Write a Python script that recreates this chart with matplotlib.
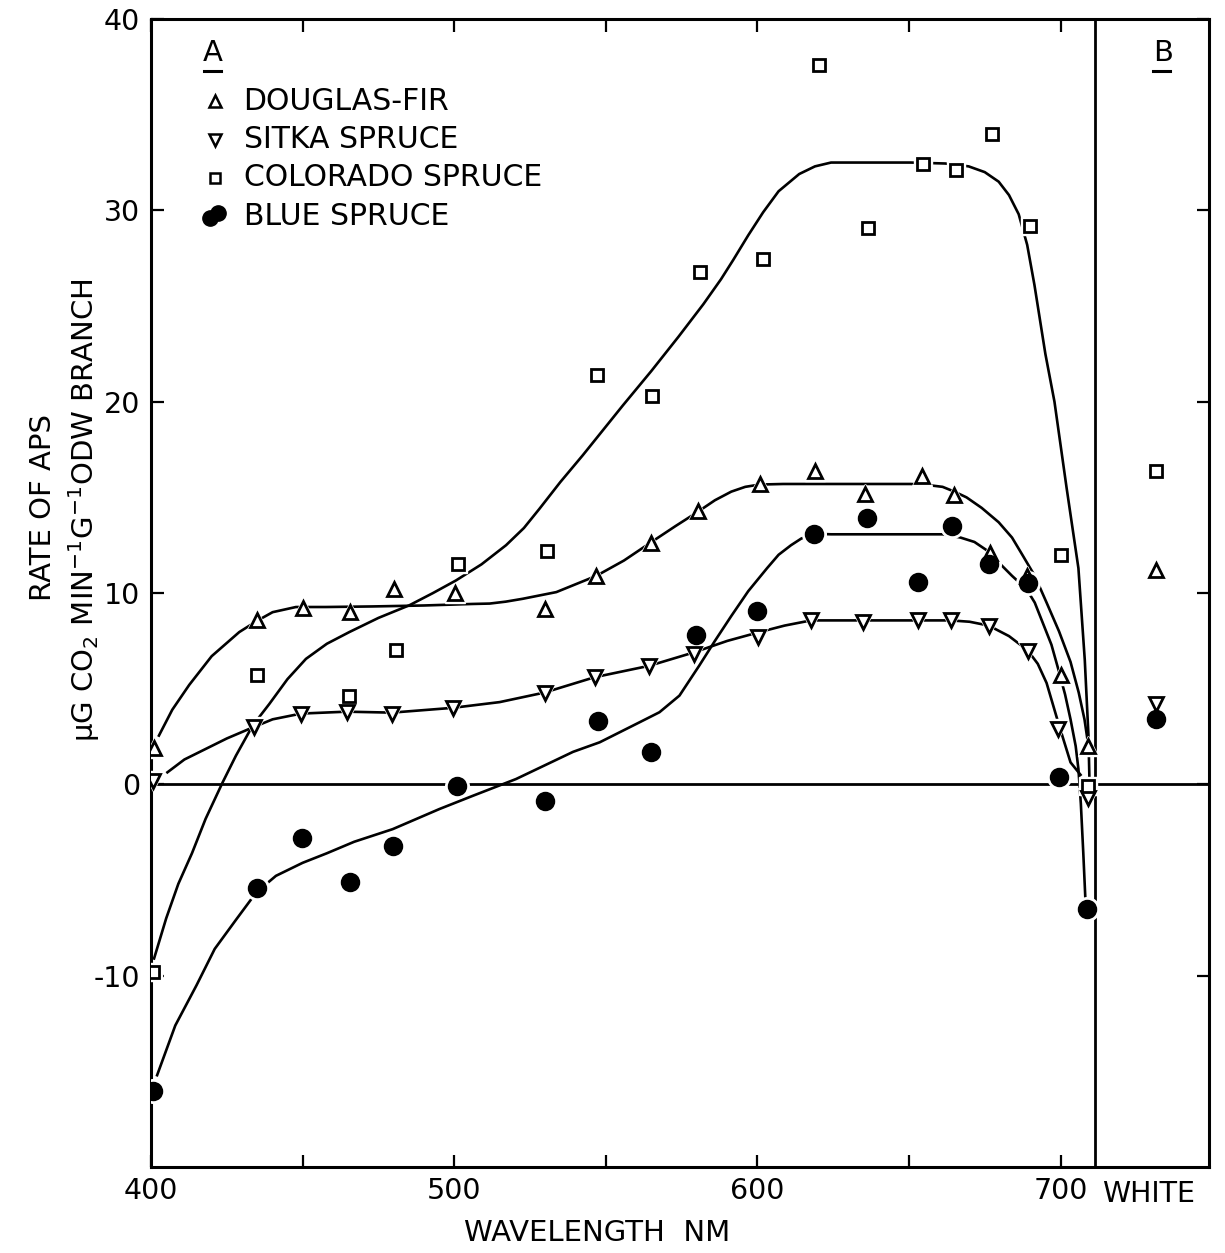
import numpy as np
import matplotlib.pyplot as plt
import matplotlib.transforms as mtransforms

plt.rcParams['font.family'] = ['DejaVu Sans']

# measured points (wavelength nm, rate)
df_x = [401, 435, 450, 465.6, 480, 500.4, 530, 546.7, 565, 580.3, 601, 619, 635.5, 654.2, 665, 676.7, 688.8, 700, 709.2]
df_y = [1.9, 8.6, 9.2, 9.0, 10.2, 10.0, 9.15, 10.9, 12.6, 14.3, 15.7, 16.4, 15.2, 16.1, 15.1, 12.1, 10.9, 5.7, 2.0]

ss_x = [400.5, 434, 449.5, 464.5, 479.4, 499.5, 529.8, 546.3, 564.4, 579.1, 600.2, 617.7, 634.8, 652.9, 663.8, 676.3, 689.2, 699.1, 709.2]
ss_y = [0.2, 3.0, 3.7, 3.8, 3.7, 4.0, 4.8, 5.6, 6.2, 6.8, 7.7, 8.57, 8.5, 8.57, 8.57, 8.3, 6.95, 2.9, -0.7]

cs_x = [400.5, 435.1, 465.4, 480.8, 501.4, 530.6, 547, 565.1, 581.2, 601.9, 620.3, 636.5, 654.8, 665.5, 677.3, 690, 700, 709.2]
cs_y = [-9.8, 5.7, 4.6, 7.0, 11.5, 12.2, 21.4, 20.3, 26.8, 27.45, 37.6, 29.1, 32.4, 32.1, 34.0, 29.2, 12.0, -0.1]

bs_x = [400.8, 434.8, 449.7, 465.5, 479.9, 500.8, 530, 547.4, 565, 579.7, 600, 618.7, 636, 652.9, 664.2, 676.5, 689.2, 699.6, 708.7]
bs_y = [-16.0, -5.4, -2.8, -5.1, -3.2, -0.07, -0.85, 3.3, 1.7, 7.8, 9.06, 13.1, 13.9, 10.6, 13.5, 11.5, 10.5, 0.37, -6.5]

# white light values
white_df, white_ss, white_cs, white_bs = 11.2, 4.2, 16.4, 3.4

# hand-drawn fitted curves
df_cx = [402.6, 407, 412.6, 420, 429.1, 435, 440.1, 447.8, 457.7, 473.1, 490, 506.1, 511.7, 517, 522.6, 533.7,
         546.9, 556, 565.1, 573, 580.3, 586, 591.4, 596, 600.7, 608.5, 650.6, 656, 661.1, 665, 669, 674, 679.6,
         684, 687.4, 691.5, 695.4, 699.5, 703.3, 706, 707.9, 709.2]
df_cy = [2.55, 3.9, 5.2, 6.7, 7.96, 8.55, 9.0, 9.27, 9.27, 9.3, 9.35, 9.43, 9.45, 9.55, 9.7, 10.05,
         10.9, 11.7, 12.67, 13.5, 14.24, 14.85, 15.3, 15.55, 15.67, 15.7, 15.7, 15.65, 15.55, 15.3, 15.0, 14.45, 13.7,
         12.9, 12.0, 10.9, 9.5, 8.0, 6.4, 4.8, 3.4, 2.0]

ss_cx = [405.4, 411, 418, 425, 432.4, 440.1, 449.5, 464.5, 479.4, 499.5, 515, 529.8, 546.3, 564.4, 579.1, 590.1,
         600.7, 609, 617.7, 663.8, 670, 676.3, 683, 689.2, 692.5, 695.4, 699.3, 703.3, 706.6]
ss_cy = [0.63, 1.3, 1.85, 2.4, 2.9, 3.4, 3.7, 3.8, 3.75, 4.0, 4.3, 4.8, 5.6, 6.2, 6.9, 7.5,
         7.96, 8.3, 8.57, 8.57, 8.5, 8.3, 7.75, 7.0, 6.3, 5.3, 3.2, 1.15, 0.5]

cs_cx = [401, 405, 409, 413.5, 418, 423.6, 428, 433.5, 439, 445, 451.1, 458, 465.4, 475, 485.2, 493, 500.6,
         509, 517.1, 523, 528.1, 535, 542.4, 549, 555.6, 565, 574, 582.2, 588, 592, 597, 601.9, 607, 613.8,
         619, 624.3, 650.6, 662, 669.7, 675, 679.6, 683, 686.2, 689, 691.4, 695, 698, 702, 705.9, 708, 709.2, 709.6]
cs_cy = [-9.1, -7.0, -5.2, -3.6, -1.8, 0.1, 1.5, 3.07, 4.2, 5.5, 6.56, 7.35, 7.96, 8.7, 9.36, 10.0, 10.66,
         11.5, 12.5, 13.4, 14.4, 15.8, 17.2, 18.5, 19.8, 21.6, 23.4, 25.1, 26.4, 27.4, 28.7, 29.9, 31.0, 31.9,
         32.3, 32.5, 32.5, 32.45, 32.3, 32.0, 31.5, 30.8, 29.8, 28.2, 26.1, 22.5, 20.0, 15.5, 11.3, 6.5, 2.6, -0.2]

bs_cx = [402, 408, 415, 421, 428.1, 434.7, 441.2, 450, 458, 467, 479.7, 495.1, 506.1, 520.4, 539.2, 548, 561.2,
         567.7, 574.3, 580.8, 586, 591.4, 597, 603.2, 607, 611.1, 614.5, 618.7, 624.3, 661.1, 667, 671.6, 676,
         679.6, 684, 688.8, 691.5, 694, 697, 699.3, 701.5, 703.3, 705, 705.9, 706.7, 707.5, 708.2]
bs_cy = [-15.2, -12.6, -10.5, -8.6, -7.06, -5.65, -4.78, -4.1, -3.6, -3.0, -2.34, -1.29, -0.6, 0.28, 1.7, 2.2, 3.25,
         3.77, 4.64, 6.2, 7.5, 8.8, 10.1, 11.3, 12.0, 12.5, 12.85, 13.1, 13.07, 13.07, 12.9, 12.67, 12.2,
         11.6, 10.9, 10.2, 9.5, 8.5, 7.3, 6.0, 4.7, 3.4, 2.0, 0.8, -1.0, -3.56, -6.0]

species = ['DOUGLAS-FIR', 'SITKA SPRUCE', 'COLORADO SPRUCE', 'BLUE SPRUCE']

WHITE_X = 731.5
DIVIDER = 711.5

fig = plt.figure(figsize=(12.25, 12.53), dpi=100)
ax = fig.add_axes([0.1233, 0.0686, 0.8637, 0.9162])
ax.set_xlim(400, 749)
ax.set_ylim(-20, 40)

lw = 1.9
ax.plot(df_cx, df_cy, color='black', lw=lw, zorder=2)
ax.plot(ss_cx, ss_cy, color='black', lw=lw, zorder=2)
ax.plot(cs_cx, cs_cy, color='black', lw=lw, zorder=2)
ax.plot(bs_cx, bs_cy, color='black', lw=lw, zorder=2)

ax.axhline(0, color='black', lw=2.0, zorder=1)
ax.axvline(DIVIDER, color='black', lw=2.0, zorder=1)


def pts(x, y, marker, ms, filled=False):
    # white halo so the fitted line breaks around each symbol
    ax.plot(x, y, ls='none', marker=marker, ms=ms + 5, mfc='white', mec='white', zorder=3)
    ax.plot(x, y, ls='none', marker=marker, ms=ms, mfc='black' if filled else 'white',
            mec='black', mew=2.0, zorder=4)


pts(df_x + [WHITE_X], df_y + [white_df], '^', 10)
pts(ss_x + [WHITE_X], ss_y + [white_ss], 'v', 10)
pts(cs_x + [WHITE_X], cs_y + [white_cs], 's', 8.5)
pts(bs_x + [WHITE_X], bs_y + [white_bs], 'o', 12, filled=True)

# panel labels
ax.text(420.2, 38.2, 'A', fontsize=21, ha='center', va='center')
ax.plot([417.5, 423.0], [37.3, 37.3], color='black', lw=2.2)
ax.text(734.0, 38.2, 'B', fontsize=21, ha='center', va='center')
ax.plot([730.5, 736.0], [37.3, 37.3], color='black', lw=2.2)

# legend drawn by hand
leg_y = [35.7, 33.7, 31.7, 29.7]
ax.plot(421, leg_y[0], marker='^', ms=8, mfc='white', mec='black', mew=1.8)
ax.plot(421, leg_y[1], marker='v', ms=8, mfc='white', mec='black', mew=1.8)
ax.plot(421, leg_y[2], marker='s', ms=7, mfc='white', mec='black', mew=1.8)
ax.plot([419.5, 422.0], [leg_y[3] - 0.1, leg_y[3] + 0.15], ls='none', marker='o', ms=11, color='black')
for yy, name in zip(leg_y, species):
    ax.text(430.5, yy, name, fontsize=21.5, ha='left', va='center')

# ticks
ax.set_xticks([400, 500, 600, 700])
ax.set_xticklabels(['400', '500', '600', '700'])
ax.set_xticks([450, 550, 650], minor=True)
ax.set_yticks([40, 30, 20, 10, 0, -10])
ax.set_yticklabels(['40', '30', '20', '10', '0', '-10'])
ax.tick_params(axis='both', which='both', direction='in', length=9, width=1.6,
               labelsize=20.5, top=True, right=True)
ax.tick_params(axis='x', pad=7)
ax.tick_params(axis='y', pad=8)
for s in ax.spines.values():
    s.set_linewidth(2.2)

trans = mtransforms.blended_transform_factory(ax.transData, ax.transAxes)
ax.text(729, -0.011, 'WHITE', transform=trans, fontsize=20.5, ha='center', va='top')

ax.set_xlabel('WAVELENGTH  NM', fontsize=21)
ax.xaxis.set_label_coords(0.4217, -0.045)
fig.text(0.035, 0.595, 'RATE OF APS', rotation=90, fontsize=21, ha='center', va='center')
fig.text(0.069, 0.593, 'μG CO$_2$ MIN$^{-1}$G$^{-1}$ODW BRANCH', rotation=90, fontsize=21,
         ha='center', va='center')

fig.savefig('out.png', dpi=100, facecolor='white')
